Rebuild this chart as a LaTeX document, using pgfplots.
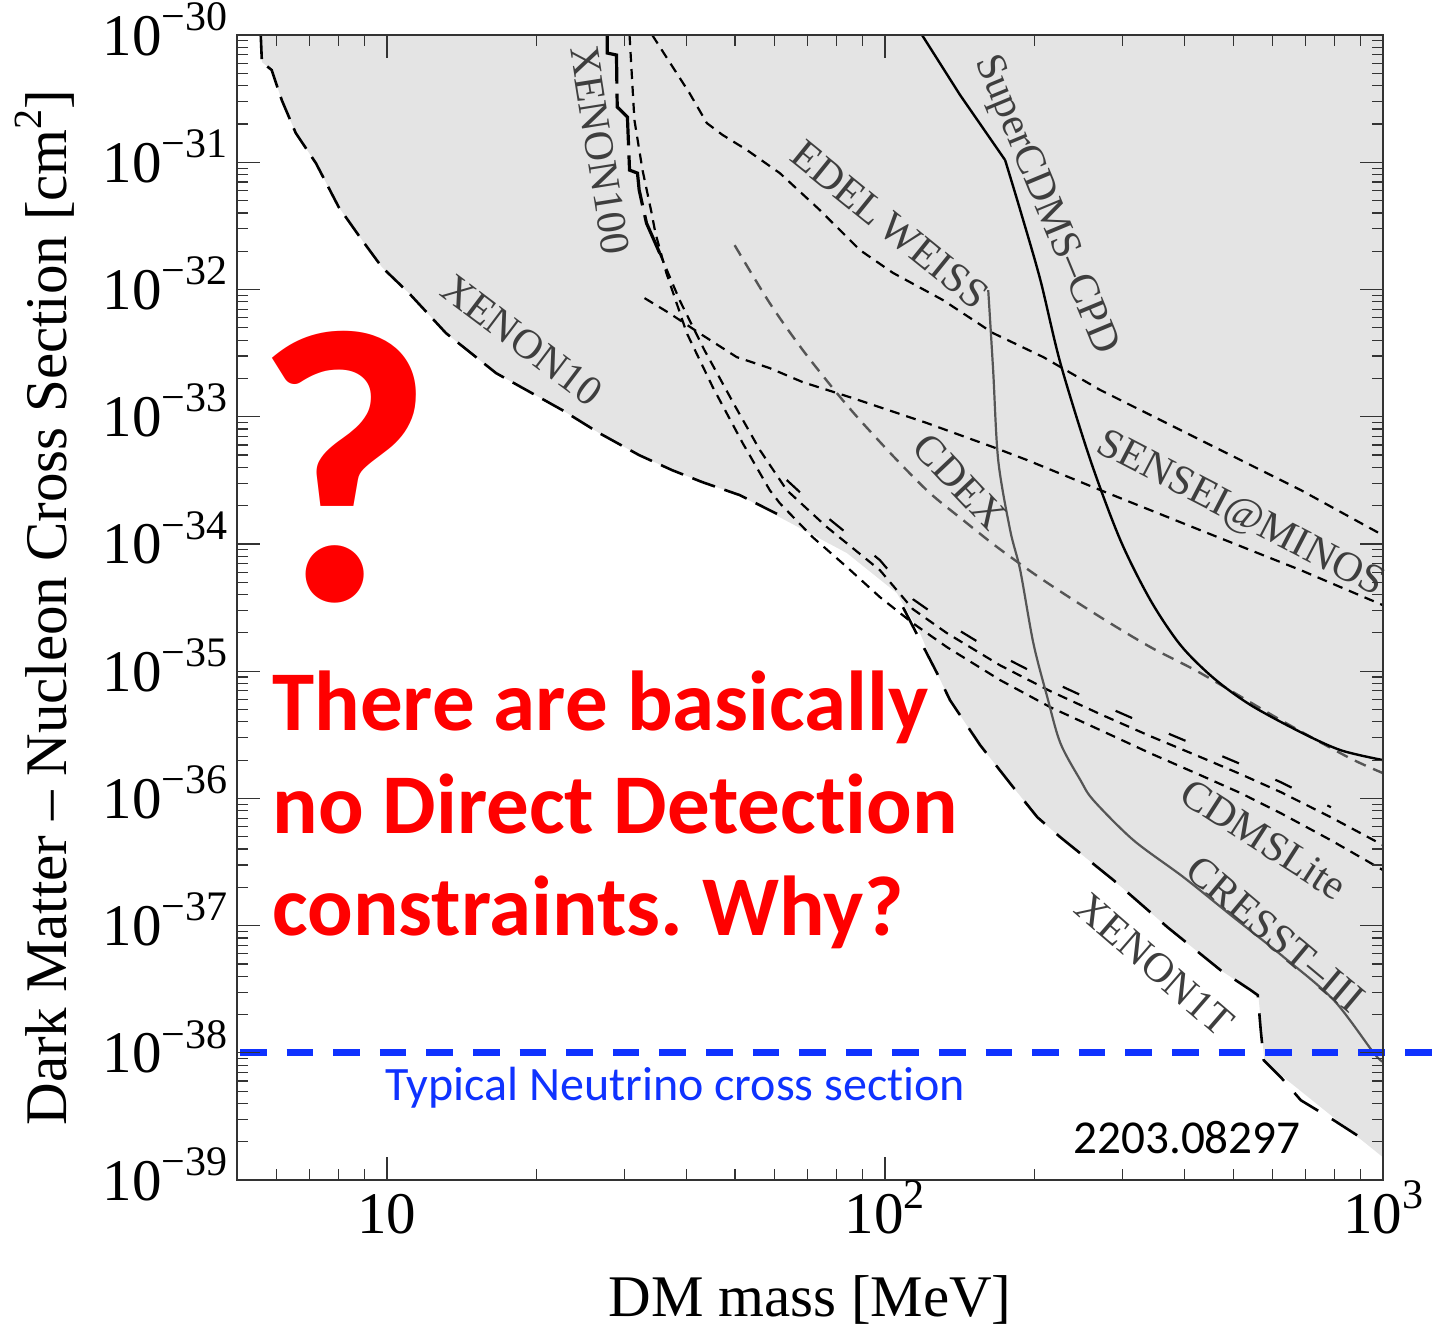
\documentclass[border=0pt]{standalone}
\usepackage{fontspec}
\setmainfont{Liberation Serif}
\newfontfamily\calibri[Ligatures=NoCommon]{Carlito}
\usepackage{pgfplots}
\pgfplotsset{compat=1.18}
\definecolor{fillgray}{RGB}{228,228,228}
\definecolor{lblgray}{RGB}{62,62,62}
\definecolor{cgray}{RGB}{85,85,85}
\definecolor{myblue}{RGB}{15,50,255}
\definecolor{myred}{RGB}{255,0,0}
\newcommand{\sq}[1]{\raisebox{0.42em}{\fontsize{21}{21}\selectfont #1}}
\newcommand{\sqa}[1]{\raisebox{0.42em}{\fontsize{20}{20}\selectfont #1}}
\begin{document}
\begin{tikzpicture}
\useasboundingbox (0,0) rectangle (722pt,665pt);
\begin{axis}[
  at={(118.5pt,75pt)}, anchor=south west,
  scale only axis, width=573pt, height=572.5pt,
  xmode=log, ymode=log,
  xmin=5, xmax=1000, ymin=1e-39, ymax=1e-30,
  axis on top, clip=false,
  axis line style={black!80, line width=0.7pt},
  tick style={black!80, line width=0.6pt},
  tick align=inside, tick pos=both,
  major tick length=11.5pt, minor tick length=5.5pt,
  xtick={10,100,1000},
  xticklabels={\mbox{10},\mbox{10\sq{2}},\mbox{10\sq{3}}},
  minor xtick={6,7,8,9,20,30,40,50,60,70,80,90,200,300,400,500,600,700,800,900},
  ytick={1e-39,1e-38,1e-37,1e-36,1e-35,1e-34,1e-33,1e-32,1e-31,1e-30},
  yticklabels={\mbox{10\sq{−39}},\mbox{10\sq{−38}},\mbox{10\sq{−37}},\mbox{10\sq{−36}},\mbox{10\sq{−35}},\mbox{10\sq{−34}},\mbox{10\sq{−33}},\mbox{10\sq{−32}},\mbox{10\sq{−31}},\mbox{10\sq{−30}}},
  minor ytick={2e-39,3e-39,4e-39,5e-39,6e-39,7e-39,8e-39,9e-39,
    2e-38,3e-38,4e-38,5e-38,6e-38,7e-38,8e-38,9e-38,
    2e-37,3e-37,4e-37,5e-37,6e-37,7e-37,8e-37,9e-37,
    2e-36,3e-36,4e-36,5e-36,6e-36,7e-36,8e-36,9e-36,
    2e-35,3e-35,4e-35,5e-35,6e-35,7e-35,8e-35,9e-35,
    2e-34,3e-34,4e-34,5e-34,6e-34,7e-34,8e-34,9e-34,
    2e-33,3e-33,4e-33,5e-33,6e-33,7e-33,8e-33,9e-33,
    2e-32,3e-32,4e-32,5e-32,6e-32,7e-32,8e-32,9e-32,
    2e-31,3e-31,4e-31,5e-31,6e-31,7e-31,8e-31,9e-31},
  tick label style={font=\fontsize{29.5}{29.5}\selectfont, text=black},
  yticklabel style={anchor=base east, inner sep=0pt, xshift=-4.5pt, yshift=-10pt},
  xticklabel style={anchor=base, inner sep=0pt, yshift=-26.5pt},
  xlabel={DM mass [MeV]},
  ylabel={Dark Matter – Nucleon Cross Section [cm\sqa{2}]},
  xlabel style={at={(axis description cs:0.5,-0.105)}, anchor=center, font=\fontsize{29.5}{30}\selectfont},
  ylabel style={at={(axis description cs:-0.1675,0.5)}, anchor=center, font=\fontsize{29.5}{30}\selectfont},
]
% shaded excluded region
\addplot[fill=fillgray, draw=none] coordinates {
(5.58,1e-30) (5.61,6.13e-31) (5.87,5.31e-31) (6.15,3.08e-31) (6.56,1.70e-31) (7.20,9.86e-32) (8.00,4.45e-32) (8.91,2.45e-32) (9.77,1.50e-32) (11.07,9.37e-33) (13.14,4.54e-33) (16.57,2.20e-33) (22.5,1.127e-33) (26.7,7.43e-34) (32.1,4.99e-34) (37.4,3.80e-34) (43.0,3.06e-34) (51.1,2.42e-34) (61.5,1.62e-34) (83.9,8.47e-35) (105.7,4.10e-35) (117.6,1.99e-35) (127.2,9.65e-36) (135.1,5.91e-36) (155.3,2.62e-36) (180.9,1.225e-36) (202.3,7.11e-37) (225,4.95e-37) (287.5,2.28e-37) (369.3,9.71e-38) (472,4.46e-38) (542.5,3.11e-38) (562,2.84e-38) (578,8.5e-39) (1000,1.51e-39) (1000,1e-30)} -- cycle;
% XENON10
\addplot[black, line width=1.3pt, dash pattern=on 12pt off 5pt] coordinates {
(5.58,1e-30) (5.61,6.13e-31) (5.87,5.31e-31) (6.15,3.08e-31) (6.56,1.70e-31) (7.20,9.86e-32) (8.00,4.45e-32) (8.91,2.45e-32) (9.77,1.50e-32) (11.07,9.37e-33) (13.14,4.54e-33) (16.57,2.20e-33) (22.5,1.127e-33) (26.7,7.43e-34) (32.1,4.99e-34) (37.4,3.80e-34) (43.0,3.06e-34) (51.1,2.42e-34) (61.5,1.68e-34)};
% XENON100
\addplot[black, line width=1.6pt, dash pattern=on 28pt off 5pt] coordinates {
(27.7,1e-30) (27.7,7.22e-31) (28.9,6.97e-31) (29.0,2.72e-31) (30.4,2.27e-31) (30.7,8.68e-32) (31.85,8.22e-32) (32.1,6.04e-32) (33.2,3.33e-32) (35.3,1.93e-32)};
% CDMSLite lines
\addplot[black, line width=1.1pt, dash pattern=on 5pt off 3.5pt] coordinates {
(35.3,1.93e-32) (38.7,8.25e-33) (43.4,3.34e-33) (49.9,1.23e-33) (56.1,5.46e-34) (63.5,2.65e-34) (76.4,1.36e-34) (97.7,6.22e-35) (113.8,3.07e-35) (133.2,1.99e-35) (170.4,1.11e-35) (214.8,6.97e-36) (270.7,4.59e-36) (341.3,3.08e-36) (430.3,2.11e-36) (518,1.55e-36) (623.5,1.12e-36) (786,7.11e-37) (1000,4.29e-37)};
\addplot[black, line width=1.1pt, dash pattern=on 9pt off 20pt] coordinates {
(63.5,3.18e-34) (76.4,1.63e-34) (97.7,7.46e-35) (113.8,3.68e-35) (133.2,2.39e-35) (170.4,1.33e-35) (214.8,8.36e-36) (270.7,5.51e-36) (341.3,3.70e-36) (430.3,2.53e-36) (518,1.86e-36) (623.5,1.34e-36) (786,8.53e-37)};
\addplot[black, line width=1.1pt, dash pattern=on 5pt off 3.5pt] coordinates {
(30.7,1e-30) (31.4,2.15e-31) (32.6,8.68e-32) (34.0,3.99e-32) (34.6,2.78e-32) (36.4,1.35e-32) (40.0,4.54e-33) (45.1,1.71e-33) (51.8,6.20e-34) (58.7,2.65e-34) (61.5,2.09e-34) (71.6,1.13e-34) (83.9,6.57e-35) (97.7,3.82e-35) (113.8,2.38e-35) (133.2,1.545e-35) (170.4,8.50e-36) (214.8,5.21e-36) (270.7,3.44e-36) (341.3,2.26e-36) (430.3,1.52e-36) (518,1.10e-36) (623.5,7.65e-37) (786,4.69e-37) (1000,2.73e-37)};
% EDELWEISS
\addplot[black, line width=1.1pt, dash pattern=on 5pt off 3.5pt] coordinates {
(34.1,1e-30) (36.4,6.71e-31) (40.5,3.50e-31) (43.9,2.03e-31) (47.2,1.64e-31) (52.8,1.25e-31) (61.5,8.22e-32) (74.0,4.21e-32) (89.1,2.04e-32) (103.8,1.35e-32) (130.8,8.25e-33) (164.9,4.54e-33) (208,2.94e-33) (270.7,1.62e-33) (430.3,6.55e-34) (683.9,2.65e-34) (1000,1.17e-34)};
% SENSEI@MINOS
\addplot[black, line width=1.1pt, dash pattern=on 5pt off 3.5pt] coordinates {
(32.9,8.56e-33) (36.9,6.52e-33) (43.0,4.38e-33) (50.4,2.94e-33) (58.7,2.41e-33) (68.4,1.87e-33) (86.2,1.40e-33) (121.5,8.91e-34) (164.9,5.77e-34) (193.1,4.56e-34) (270.7,2.65e-34) (430.3,1.28e-34) (683.9,6.22e-35) (1000,3.30e-35)};
% CDEX
\addplot[cgray, line width=1.2pt, dash pattern=on 6pt off 4pt, smooth] coordinates {
(49.9,2.23e-32) (58.7,7.82e-33) (68.4,3.34e-33) (80.1,1.53e-33) (89.1,9.40e-34) (105.7,4.56e-34) (123.1,2.51e-34) (143.5,1.54e-34) (168,9.44e-35) (208,5.19e-35) (270.7,2.66e-35) (341.3,1.545e-35) (430.3,9.65e-36) (623.5,4.12e-36) (850.4,2.11e-36) (1000,1.58e-36)};
% CRESST-III
\addplot[cgray, line width=1.1pt, smooth] coordinates {
(161.2,9.89e-33) (164.9,2.32e-33) (168.8,4.56e-34) (178.4,1.28e-34) (186.9,6.22e-35) (198.6,1.66e-35) (211.8,6.25e-36) (225,2.72e-36) (246.9,1.39e-36) (262.1,9.68e-37) (315.5,4.69e-37) (397.8,2.40e-37) (501.4,1.16e-37) (632.2,5.65e-38) (797,2.59e-38) (959,9.93e-39) (1000,8.5e-39)};
% SuperCDMS-CPD
\addplot[black, line width=1.2pt] coordinates {
(118.7,1e-30) (141.5,3.38e-31) (174.3,1.04e-31)};
\addplot[black, line width=1.2pt, smooth] coordinates {
(174.3,1.04e-31) (186.9,4.21e-32) (205.1,1.19e-32) (225,2.64e-33) (258.5,4.56e-34) (297.0,1.07e-34) (341.3,3.61e-35) (392.3,1.60e-35) (457.1,8.81e-36) (542.5,5.41e-36) (683.9,3.31e-36) (823,2.39e-36) (1000,2.0e-36)};
% XENON1T
\addplot[black, line width=1.3pt, dash pattern=on 15pt off 8pt] coordinates {
(108.7,3.18e-35) (117.6,1.75e-35) (127.2,9.65e-36) (135.1,5.91e-36) (155.3,2.62e-36) (180.9,1.225e-36) (202.3,7.11e-37) (225,4.95e-37) (287.5,2.28e-37) (369.3,9.71e-38) (472,4.46e-38) (542.5,3.11e-38) (560.4,2.84e-38) (568.2,1.51e-38) (576.2,8.75e-39) (623.5,6.43e-39) (683.9,4.24e-39) (797,2.95e-39) (933,1.98e-39)};
% neutrino line
\addplot[myblue, line width=3.5pt, dash pattern=on 13.3pt off 10pt] coordinates {(5.07,1e-38) (1330,1e-38)};
% experiment labels
\begin{scope}[every node/.style={font=\fontsize{21}{21}\selectfont, text=lblgray, inner sep=0pt}]
\node[rotate=-37] at (rel axis cs:0.2487,0.7336) {XENON10};
\node[rotate=-81] at (rel axis cs:0.3168,0.8996) {XENON100};
\node[rotate=-39] at (rel axis cs:0.5698,0.8341) {EDEL\,WEISS};
\node[rotate=-67.5] at (rel axis cs:0.7051,0.8515) {SuperCDMS–CPD};
\node[rotate=-46.7] at (rel axis cs:0.6309,0.6096) {CDEX};
\node[rotate=-27.4] at (rel axis cs:0.8752,0.5808) {SENSEI@MINOS};
\node[rotate=-32.8] at (rel axis cs:0.8960,0.2975) {CDMSLite};
\node[rotate=-39.9] at (rel axis cs:0.9060,0.2150) {CRESST–III};
\node[rotate=-40.9] at (rel axis cs:0.8010,0.1878) {XENON1T};
\end{scope}
% annotations
\node[anchor=base west, inner sep=0pt, text=myred, font=\calibri\bfseries\fontsize{195}{195}\selectfont] at (rel axis cs:0.0140,0.5066) {?};
\begin{scope}[every node/.style={anchor=base west, inner sep=0pt, text=myred, font=\calibri\bfseries\fontsize{42.5}{43}\selectfont}]
\node at (rel axis cs:0.0305,0.3930) {There are basically};
\node at (rel axis cs:0.0305,0.3031) {no Direct Detection};
\node at (rel axis cs:0.0305,0.2140) {constraints.\ Why?};
\end{scope}
\node[anchor=base west, inner sep=0pt, text=myblue, font=\calibri\fontsize{24}{24}\selectfont] at (rel axis cs:0.1291,0.0699) {Typical Neutrino cross section};
\node[anchor=base west, inner sep=0pt, text=black, font=\calibri\fontsize{23.6}{24}\selectfont] at (rel axis cs:0.7295,0.0236) {2203.08297};
\end{axis}
\end{tikzpicture}
\end{document}
